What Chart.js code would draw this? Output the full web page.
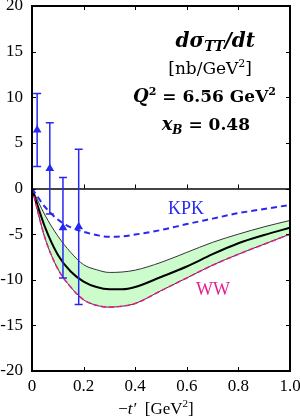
<!DOCTYPE html>
<html>
<head>
<meta charset="utf-8">
<script src="https://cdn.jsdelivr.net/npm/chart.js@4.4.1/dist/chart.umd.min.js"></script>
<style>
  html, body { margin: 0; padding: 0; background: #fff; }
  #wrap { width: 300px; height: 418px; }
</style>
</head>
<body>
<div id="wrap"><canvas id="sigmaChart" width="300" height="418"></canvas></div>
<script>
// -t' grid for the model curves
const tGrid   = [0, 0.05, 0.1, 0.15, 0.2, 0.25, 0.3, 0.35, 0.4, 0.5, 0.6, 0.7, 0.8, 0.9, 1.0];
const bandUp  = [0, -2.9, -5.2, -7.0, -8.35, -8.9, -9.2, -9.15, -8.95, -8.1, -7.0, -5.9, -5.0, -4.2, -3.5];
const central = [0, -4.2, -7.25, -9.1, -10.2, -10.8, -11.05, -11.05, -10.8, -9.7, -8.55, -7.2, -6.0, -5.1, -4.3];
const bandLow = [0, -5.4, -8.8, -10.8, -12.2, -12.8, -13.0, -12.9, -12.6, -11.2, -9.8, -8.4, -7.2, -6.1, -5.0];
const kpk     = [0, -2.0, -3.4, -4.25, -4.75, -5.1, -5.3, -5.25, -5.05, -4.55, -3.9, -3.3, -2.7, -2.25, -1.8];

// data points
const dataT   = [0.02, 0.069, 0.12, 0.181];
const dataY   = [6.4, 2.2, -4.3, -4.2];
const dataErr = [4.0, 5.0, 5.5, 8.5];

const xTicks = [0, 0.2, 0.4, 0.6, 0.8, 1.0];

const BLUE = 'rgb(40,40,240)';
const PINK = 'rgb(230,30,140)';
const SERIF = '"Liberation Serif", "DejaVu Serif", serif';
const DSERIF = '"DejaVu Serif", serif';

const pts = arr => tGrid.map((t, i) => ({ x: t, y: arr[i] }));

// frame, inward ticks, error bars and texts
const extras = {
    id: 'extras',
    afterDatasetsDraw(chart) {
        const ctx = chart.ctx, xs = chart.scales.x, ys = chart.scales.y;
        ctx.save();
        ctx.strokeStyle = BLUE; ctx.lineWidth = 1.5;
        dataT.forEach((t, i) => {
            const px = xs.getPixelForValue(t);
            const top = ys.getPixelForValue(dataY[i] + dataErr[i]);
            const bot = ys.getPixelForValue(dataY[i] - dataErr[i]);
            ctx.beginPath();
            ctx.moveTo(px, top); ctx.lineTo(px, bot);
            ctx.moveTo(px - 4, top); ctx.lineTo(px + 4, top);
            ctx.moveTo(px - 4, bot); ctx.lineTo(px + 4, bot);
            ctx.stroke();
        });
        ctx.restore();
    },
    afterDraw(chart) {
        const ctx = chart.ctx, a = chart.chartArea, xs = chart.scales.x, ys = chart.scales.y;
        ctx.save();
        // ticks
        ctx.strokeStyle = '#000'; ctx.lineWidth = 1;
        const y0 = ys.getPixelForValue(0);
        ctx.beginPath();
        xTicks.slice(1, -1).forEach(v => {
            const px = Math.round(xs.getPixelForValue(v)) + 0.5;
            ctx.moveTo(px, a.top); ctx.lineTo(px, a.top + 4);
            ctx.moveTo(px, a.bottom); ctx.lineTo(px, a.bottom - 4);
            ctx.moveTo(px, y0); ctx.lineTo(px, y0 - 4);
        });
        for (let v = -15; v <= 15; v += 5) {
            const py = Math.round(ys.getPixelForValue(v)) + 0.5;
            ctx.moveTo(a.left, py); ctx.lineTo(a.left + 4, py);
            ctx.moveTo(a.right, py); ctx.lineTo(a.right - 4, py);
        }
        ctx.stroke();
        // frame
        ctx.lineWidth = 2;
        ctx.strokeRect(a.left, a.top, a.right - a.left, a.bottom - a.top);

        // texts
        ctx.fillStyle = '#000';
        ctx.textBaseline = 'alphabetic';
        function runs(list, x0, y, align) {
            let w = 0;
            list.forEach(r => { ctx.font = r.f; w += ctx.measureText(r.t).width; });
            let x = align === 'right' ? x0 - w : x0 - w / 2;
            list.forEach(r => { ctx.font = r.f; ctx.fillText(r.t, x, y + (r.dy || 0)); x += ctx.measureText(r.t).width; });
        }
        const big = 'italic bold 20px ' + DSERIF, bigs = 'italic bold 14px ' + DSERIF;
        const bi = 'italic bold 18px ' + DSERIF, bis = 'italic bold 12px ' + DSERIF;
        const b = 'bold 17px ' + DSERIF, bs = 'bold 11px ' + DSERIF;
        const r = '17px ' + DSERIF, rs = '11px ' + DSERIF;
        runs([{ t: 'd\u03c3', f: big }, { t: 'TT', f: bigs, dy: 4 }, { t: '/dt', f: big }], 255, 47, 'right');
        runs([{ t: '[nb/GeV', f: r }, { t: '2', f: rs, dy: -7 }, { t: ']', f: r }], 252, 74, 'right');
        runs([{ t: 'Q', f: bi }, { t: '2', f: bs, dy: -7 }, { t: ' = 6.56 GeV', f: b }, { t: '2', f: bs, dy: -7 }], 276, 102, 'right');
        runs([{ t: 'x', f: bi }, { t: 'B', f: bis, dy: 4 }, { t: ' = 0.48', f: b }], 250, 130, 'right');

        // curve labels
        ctx.fillStyle = BLUE; runs([{ t: 'KPK', f: '18px ' + SERIF }], 186, 214);
        ctx.fillStyle = PINK; runs([{ t: 'WW', f: '18px ' + SERIF }], 213, 295);

        // x axis title
        ctx.fillStyle = '#000';
        runs([{ t: '\u2212', f: '17px ' + SERIF }, { t: 't\u2032', f: 'italic 17px ' + SERIF },
              { t: '  [GeV', f: '17px ' + SERIF }, { t: '2', f: '11px ' + SERIF, dy: -7 }, { t: ']', f: '17px ' + SERIF }], 156, 414);
        ctx.restore();
    }
};

new Chart(document.getElementById('sigmaChart'), {
    type: 'scatter',
    data: {
        datasets: [
            { data: dataT.map((t, i) => ({ x: t, y: dataY[i] })), pointStyle: 'triangle', pointRadius: 5,
              backgroundColor: BLUE, borderColor: BLUE, borderWidth: 0, showLine: false, order: 0 },
            { data: pts(kpk), showLine: true, borderColor: BLUE, borderWidth: 2, borderDash: [6, 4],
              pointRadius: 0, cubicInterpolationMode: 'monotone', fill: false, order: 1 },
            { data: pts(bandLow), showLine: true, borderColor: PINK, borderWidth: 1.6, borderDash: [5, 3],
              pointRadius: 0, cubicInterpolationMode: 'monotone', fill: false, order: 2 },
            { data: pts(central), showLine: true, borderColor: '#000', borderWidth: 2,
              pointRadius: 0, cubicInterpolationMode: 'monotone', fill: false, order: 3 },
            { data: pts(bandLow), showLine: true, borderColor: '#333', borderWidth: 1,
              pointRadius: 0, cubicInterpolationMode: 'monotone', fill: false, order: 4 },
            { data: pts(bandUp), showLine: true, borderColor: '#333', borderWidth: 1,
              pointRadius: 0, cubicInterpolationMode: 'monotone', fill: { target: 4 },
              backgroundColor: 'rgb(204,252,204)', order: 5 }
        ]
    },
    options: {
        responsive: false,
        animation: false,
        devicePixelRatio: 1,
        layout: { padding: { left: 0, right: 10, top: 6, bottom: 0 } },
        plugins: { legend: { display: false }, tooltip: { enabled: false } },
        scales: {
            x: {
                type: 'linear', min: 0, max: 1,
                afterBuildTicks: s => { s.ticks = xTicks.map(v => ({ value: v })); },
                afterFit: s => { s.height = 47; s.paddingLeft = 0; s.paddingRight = 0; },
                ticks: { padding: 5, color: '#000', font: { family: SERIF, size: 17 },
                         callback: v => (v === 0 ? '0' : v.toFixed(1)), maxRotation: 0 },
                grid: { display: false, drawTicks: false },
                border: { display: false }
            },
            y: {
                min: -20, max: 20,
                afterFit: s => { s.width = 32; s.paddingTop = 0; s.paddingBottom = 0; },
                ticks: { stepSize: 5, padding: 9, color: '#000', font: { family: SERIF, size: 17 } },
                grid: { drawTicks: false,
                        color: c => (c.tick && c.tick.value === 0 ? '#444' : 'rgba(0,0,0,0)'),
                        lineWidth: c => (c.tick && c.tick.value === 0 ? 2 : 0) },
                border: { display: false }
            }
        }
    },
    plugins: [extras]
});
</script>
</body>
</html>
